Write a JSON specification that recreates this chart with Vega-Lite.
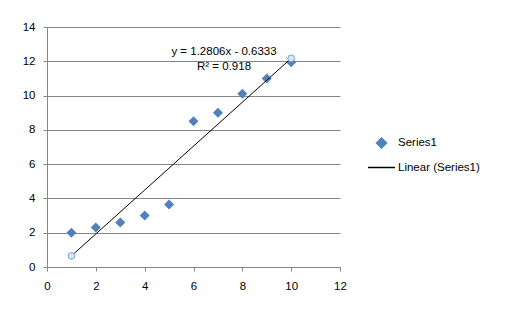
{
  "$schema": "https://vega.github.io/schema/vega-lite/v6.json",
  "width": 293,
  "height": 240,
  "autosize": "none",
  "padding": {"left": 47, "top": 27, "right": 176, "bottom": 50},
  "background": "white",
  "config": {
    "view": {"stroke": null},
    "font": "Liberation Sans",
    "axis": {
      "labelFont": "Liberation Sans",
      "labelFontSize": 11.5,
      "labelColor": "#000000",
      "domainColor": "#868686",
      "tickColor": "#868686",
      "gridColor": "#868686",
      "gridOpacity": 1,
      "tickSize": 4,
      "labelOverlap": false,
      "title": null
    }
  },
  "datasets": {
    "pts": [
      {"x": 1, "y": 2.0, "series": "Series1"},
      {"x": 2, "y": 2.3, "series": "Series1"},
      {"x": 3, "y": 2.6, "series": "Series1"},
      {"x": 4, "y": 3.0, "series": "Series1"},
      {"x": 5, "y": 3.65, "series": "Series1"},
      {"x": 6, "y": 8.5, "series": "Series1"},
      {"x": 7, "y": 9.0, "series": "Series1"},
      {"x": 8, "y": 10.1, "series": "Series1"},
      {"x": 9, "y": 11.0, "series": "Series1"},
      {"x": 10, "y": 11.95, "series": "Series1"}
    ],
    "trend": [
      {"x": 1, "y": 0.6473, "series": "Linear (Series1)"},
      {"x": 10, "y": 12.1727, "series": "Linear (Series1)"}
    ],
    "labels": [
      {"x": 7.25, "y": 12.57, "label": "y = 1.2806x - 0.6333"},
      {"x": 7.25, "y": 11.64, "label": "R² = 0.918"}
    ]
  },
  "encoding": {
    "x": {
      "field": "x", "type": "quantitative",
      "scale": {"domain": [0, 12], "nice": false, "zero": false},
      "axis": {"values": [0, 2, 4, 6, 8, 10, 12], "tickCount": 7, "grid": false, "labelPadding": 9, "labelFlush": false, "labelOverlap": false}
    },
    "y": {
      "field": "y", "type": "quantitative",
      "scale": {"domain": [0, 14], "nice": false},
      "axis": {"values": [0, 2, 4, 6, 8, 10, 12, 14], "tickCount": 8, "grid": true, "labelPadding": 8, "labelFlush": false, "labelOverlap": false}
    }
  },
  "layer": [
    {
      "data": {"name": "pts"},
      "mark": {"type": "point", "filled": true, "opacity": 1},
      "encoding": {
        "color": {
          "field": "series", "type": "nominal",
          "scale": {"domain": ["Series1", "Linear (Series1)"], "range": ["#4F81BD", "#000000"]},
          "legend": {
            "title": null,
            "orient": "none",
            "legendX": 320,
            "legendY": 110,
            "labelFont": "Liberation Sans",
            "labelFontSize": 11.5,
            "labelColor": "#000000",
            "rowPadding": 2,
            "labelOffset": 2,
            "encode": {
              "symbols": {"update": {"stroke": {"scale": "color", "field": "value"}, "strokeWidth": {"value": 1}}}
            }
          }
        },
        "shape": {
          "field": "series", "type": "nominal",
          "scale": {"domain": ["Series1", "Linear (Series1)"], "range": ["diamond", "stroke"]}
        },
        "size": {
          "field": "series", "type": "nominal",
          "scale": {"domain": ["Series1", "Linear (Series1)"], "range": [100, 729]}
        }
      }
    },
    {
      "data": {"name": "trend"},
      "mark": {"type": "line", "strokeWidth": 1},
      "encoding": {
        "color": {"field": "series", "type": "nominal"}
      }
    },
    {
      "data": {"name": "trend"},
      "mark": {"type": "point", "shape": "circle", "size": 45, "filled": true, "fill": "#D6E9F5", "stroke": "#7F9FBF", "strokeWidth": 1, "opacity": 1},
      "encoding": {}
    },
    {
      "data": {"name": "labels"},
      "mark": {"type": "text", "font": "Liberation Sans", "fontSize": 11.5, "color": "#000000", "align": "center", "baseline": "middle"},
      "encoding": {
        "text": {"field": "label"}
      }
    }
  ]
}
